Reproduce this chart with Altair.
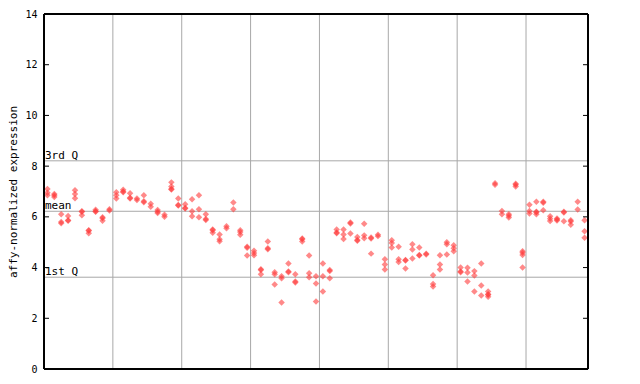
import altair as alt
import pandas as pd

# expression values per sample (replicates), samples in order
samples = [
    [7.1, 6.95, 6.85], [6.9, 6.85, 6.78], [6.1, 5.8, 5.75], [6.03, 5.87, 5.85], [7.05, 6.9, 6.73],
    [6.22, 6.2, 6.06], [5.47, 5.45, 5.35], [6.28, 6.22, 6.2], [5.98, 5.95, 5.85], [6.3, 6.25],
    [6.97, 6.85, 6.72], [7.07, 7.0, 6.97], [6.93, 6.75, 6.72], [6.72, 6.66], [6.85, 6.62, 6.58],
    [6.52, 6.4], [6.27, 6.2, 6.15], [6.08, 6.0], [7.36, 7.2, 7.1, 7.08], [6.72, 6.47, 6.45],
    [6.5, 6.35, 6.33], [6.69, 6.22, 6.02], [6.85, 6.3, 5.98], [6.1, 5.92, 5.88], [5.5, 5.47, 5.37],
    [5.3, 5.12, 5.04], [5.63, 5.55], [6.57, 6.3], [5.47, 5.4, 5.29], [4.82, 4.78, 4.48],
    [4.66, 4.57, 4.49], [3.93, 3.9, 3.74], [5.03, 4.76, 4.72], [3.82, 3.74, 3.33], [3.66, 3.58, 2.62],
    [4.16, 3.85, 3.82], [3.74, 3.45, 3.41], [5.15, 5.12, 5.03], [4.48, 3.78, 3.62], [3.66, 3.37, 2.66],
    [4.16, 3.66, 3.06], [3.9, 3.86, 3.58], [5.5, 5.38, 5.35], [5.5, 5.3, 5.13], [5.78, 5.74, 5.34],
    [5.21, 5.09, 5.06], [5.73, 5.27, 5.16], [5.19, 5.15, 4.55], [5.29, 5.24], [4.33, 4.12, 3.92],
    [5.08, 4.97, 4.79], [4.82, 4.33, 4.22], [4.3, 4.28, 3.96], [4.92, 4.71, 4.36], [4.79, 4.5, 4.48],
    [4.55, 4.52], [3.7, 3.35, 3.25], [4.49, 4.12, 3.92], [5.0, 4.92, 4.52], [4.88, 4.76, 4.64],
    [4.0, 3.85, 3.82], [3.99, 3.81, 3.45], [3.86, 3.69, 3.06], [4.16, 3.29, 2.9], [3.06, 2.95, 2.93, 2.85],
    [7.33, 7.27], [6.23, 6.1], [6.1, 6.04, 5.97], [7.31, 7.27, 7.2], [4.64, 4.58, 4.5, 4.0],
    [6.48, 6.23, 6.13], [6.6, 6.2, 6.18, 6.1], [6.6, 6.56, 6.26], [6.02, 5.93, 5.84], [5.94, 5.9, 5.86],
    [6.2, 6.17, 5.83], [5.87, 5.82, 5.69], [6.6, 6.29], [5.87, 5.43, 5.18],
]
group_bounds = [10, 20, 30, 40, 50, 60, 70]
stat_names = ["3rd Q", "mean", "1st Q"]
stat_values = [8.21, 6.22, 3.62]
y_ticks = [0, 2, 4, 6, 8, 10, 12, 14]

rows = []
for i, reps in enumerate(samples):
    for v in reps:
        rows.append({"pos": i + 0.5, "value": v})
pts = pd.DataFrame(rows)
stats = pd.DataFrame({"name": stat_names, "value": stat_values})
bounds = pd.DataFrame({"pos": group_bounds})
ticks = pd.DataFrame({"value": y_ticks})

W, H = 544, 355
FONT = "DejaVu Sans Mono"
xs = alt.Scale(domain=[0, len(samples)], nice=False, zero=False)
ys = alt.Scale(domain=[0, 14], nice=False)

grid_v = alt.Chart(bounds).mark_rule(color="#a8a8a8", strokeWidth=1).encode(
    x=alt.X("pos:Q", scale=xs, axis=None)
)
grid_h = alt.Chart(stats).mark_rule(color="#a8a8a8", strokeWidth=1).encode(
    y=alt.Y("value:Q", scale=ys)
)
stat_text = alt.Chart(stats).mark_text(
    font=FONT, fontSize=11, align="left", baseline="bottom", dx=0, dy=0, color="black"
).encode(x=alt.value(1), y=alt.Y("value:Q", scale=ys), text="name:N")

points = alt.Chart(pts).mark_point(
    shape="diamond", filled=True, size=42, color="#ff3b3b", opacity=0.6, strokeWidth=0
).encode(
    x=alt.X("pos:Q", scale=xs, axis=None),
    y=alt.Y(
        "value:Q",
        scale=ys,
        axis=alt.Axis(
            values=y_ticks,
            title="affy-normalized expression",
            titleFont=FONT,
            titleFontSize=11,
            titleFontWeight="normal",
            titleX=-31,
            titleY=H / 2,
            titleAngle=270,
            titleAlign="center",
            titleBaseline="middle",
            labelFont=FONT,
            labelFontSize=10,
            labelColor="black",
            labelPadding=7,
            ticks=False,
            grid=False,
            domain=False,
        ),
    ),
)

ticks_left = alt.Chart(ticks).mark_rule(color="black").encode(
    x=alt.value(0), x2=alt.value(5), y=alt.Y("value:Q", scale=ys)
)
ticks_right = alt.Chart(ticks).mark_rule(color="black").encode(
    x=alt.value(W - 5), x2=alt.value(W), y=alt.Y("value:Q", scale=ys)
)
border_l = alt.Chart(ticks).mark_rule(color="black").encode(
    x=alt.value(0), y=alt.value(0), y2=alt.value(H)
)
border_r = alt.Chart(ticks).mark_rule(color="black").encode(
    x=alt.value(W), y=alt.value(0), y2=alt.value(H)
)
border_t = alt.Chart(ticks).mark_rule(color="black").encode(
    x=alt.value(0), x2=alt.value(W), y=alt.value(0)
)
border_b = alt.Chart(ticks).mark_rule(color="black").encode(
    x=alt.value(0), x2=alt.value(W), y=alt.value(H)
)

chart = (
    alt.layer(grid_v, grid_h, points, stat_text, ticks_left, ticks_right,
              border_l, border_r, border_t, border_b)
    .properties(
        width=W,
        height=H,
        autosize=alt.AutoSizeParams(type="none"),
        padding={"left": 36, "top": 6, "right": 4, "bottom": 10},
    )
    .configure_view(stroke=None)
    .configure(background="white")
)

chart.save("out.html", embed_options={"renderer": "svg", "actions": False})
